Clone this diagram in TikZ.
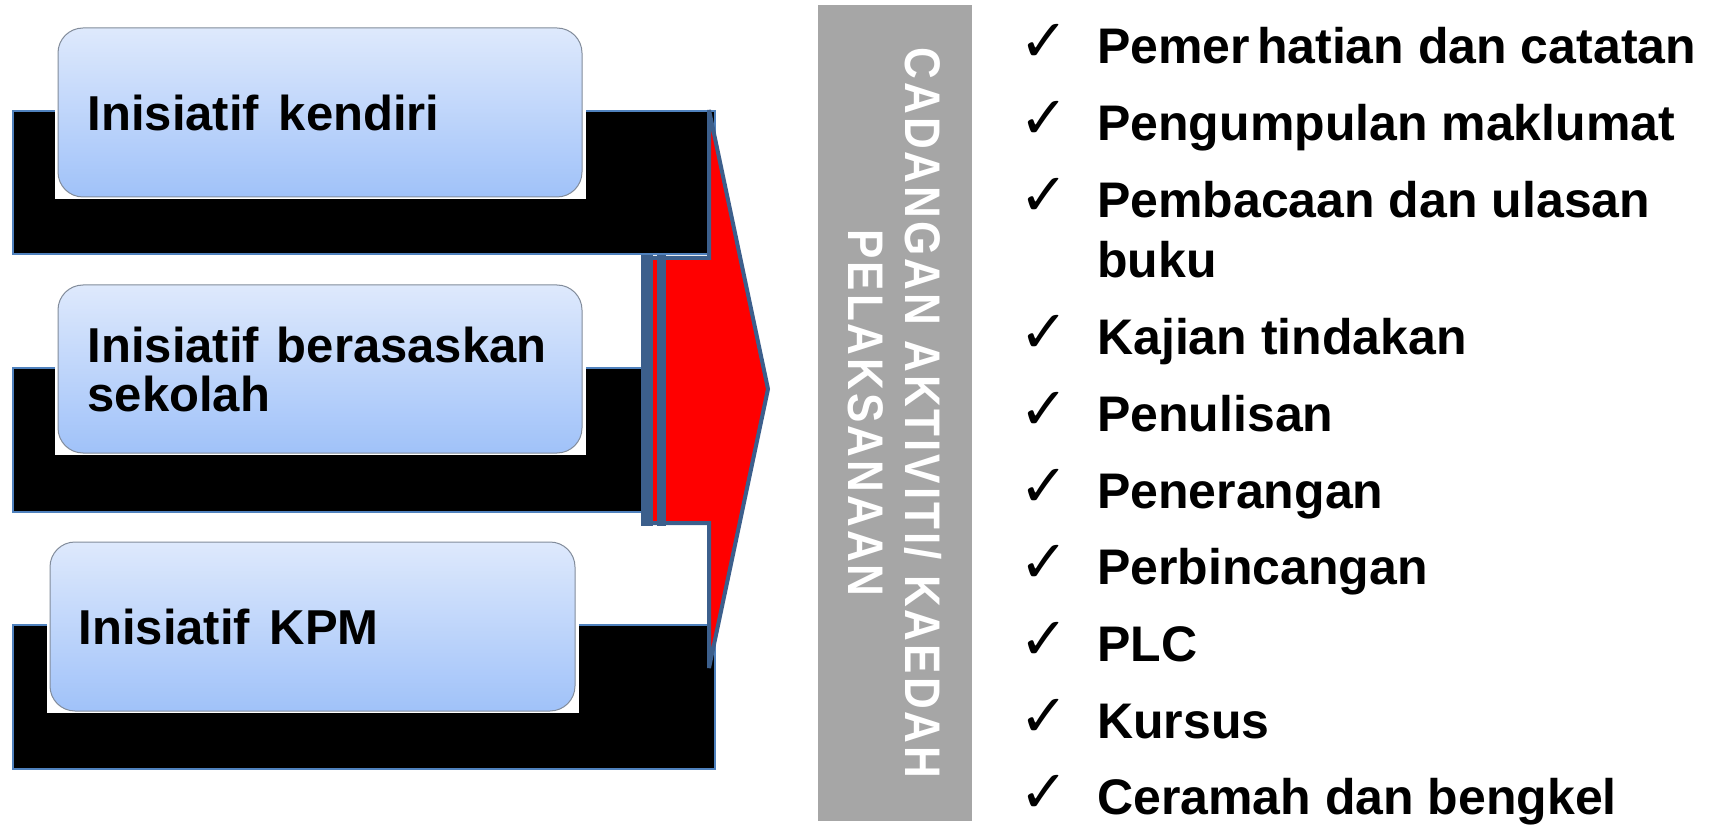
\documentclass[tikz,border=0pt]{standalone}
\usepackage{fontspec}
\setmainfont{Liberation Sans}
\newfontfamily\spacedfont{Liberation Sans}[LetterSpace=6,FakeStretch=0.88]
\newfontfamily\checkfont{DejaVu Sans}
\definecolor{arrowblue}{RGB}{60,95,140}
\definecolor{barline}{RGB}{79,129,189}
\definecolor{boxtop}{RGB}{222,233,252}
\definecolor{boxbot}{RGB}{160,194,249}
\definecolor{boxline}{RGB}{130,140,155}
\definecolor{bargray}{RGB}{166,166,166}
\begin{document}
\begin{tikzpicture}[x=1pt,y=-1pt,
  blackbar/.style={fill=black, draw=barline, line width=1.5pt},
  ibox/.style={rectangle, rounded corners=25pt, top color=boxtop, bottom color=boxbot, draw=boxline, line width=1pt, inner sep=0pt},
  itext/.style={font=\bfseries\fontsize{49}{49}\selectfont, inner sep=0pt, align=left},
  litem/.style={font=\bfseries\fontsize{50}{60}\selectfont, inner sep=0pt, anchor=base west},
  chk/.style={font=\checkfont\fontsize{59}{65}\selectfont, inner sep=0pt, anchor=base west},
  bartext/.style={font=\spacedfont\bfseries\fontsize{50}{57}\selectfont, text=white, align=center, inner sep=0pt, rotate=-90}
]
\useasboundingbox (0,0) rectangle (1717,826);

% black bars
\draw[blackbar] (13,111) rectangle (715,254);
\draw[blackbar] (13,368) rectangle (645,512);
\draw[blackbar] (13,625) rectangle (715,769);

% arrow
\fill[red] (653,258) -- (709,258) -- (709,110) -- (768,389) -- (709,668) -- (709,523) -- (653,523) -- cycle;
\fill[arrowblue] (641,255) rectangle (653,526);
\fill[arrowblue] (657,255) rectangle (666,526);
\draw[arrowblue, line width=4pt, miter limit=5] (643,258) -- (709,258) -- (709,110) -- (768,389) -- (709,668) -- (709,523) -- (643,523) -- cycle;

% white backgrounds of boxes
\fill[white] (55,26) rectangle (586,199);
\fill[white] (55,283) rectangle (586,455);
\fill[white] (47,540) rectangle (579,713);

% boxes
\node[ibox, minimum width=524pt, minimum height=169pt] (b1) at (320,112.5) {};
\node[ibox, minimum width=524pt, minimum height=168pt] (b2) at (320,369) {};
\node[ibox, minimum width=525pt, minimum height=169pt] (b3) at (312.5,626.5) {};
\node[itext, anchor=west] (t1) at ([xshift=30pt]b1.west) {Inisiatif\kern6pt{} kendiri};
\node[itext, anchor=west] (t2) at ([xshift=30pt]b2.west) {Inisiatif\kern4pt{} berasaskan\\sekolah};
\node[itext, anchor=west] (t3) at ([xshift=29pt]b3.west) {Inisiatif\kern6pt{} KPM};

% gray bar
\node[fill=bargray, minimum width=154pt, minimum height=816pt, inner sep=0pt] (bar) at (895,413) {};
\node[bartext] (bt) at (bar.center) {CADANGAN AKTIVITI/ KAEDAH\\PELAKSANAAN};

% list
\node[chk] (c1) at (1019,62) {✓};
\node[litem] (l1) at (1097,64) {Pemer\kern7pt hatian dan catatan};
\node[chk] (c2) at (1019,139) {✓};
\node[litem] (l2) at (1097,141) {Pengumpulan maklumat};
\node[chk] (c3) at (1019,216) {✓};
\node[litem] (l3) at (1097,218) {Pembacaan dan ulasan};
\node[litem] (l3b) at (1097,278) {buku};
\node[chk] (c4) at (1019,353) {✓};
\node[litem] (l4) at (1097,355) {Kajian tindakan};
\node[chk] (c5) at (1019,429) {✓};
\node[litem] (l5) at (1097,431) {Penulisan};
\node[chk] (c6) at (1019,506) {✓};
\node[litem] (l6) at (1097,508) {Penerangan};
\node[chk] (c7) at (1019,582) {✓};
\node[litem] (l7) at (1097,584) {Perbincangan};
\node[chk] (c8) at (1019,659) {✓};
\node[litem] (l8) at (1097,661) {PLC};
\node[chk] (c9) at (1019,736) {✓};
\node[litem] (l9) at (1097,738) {Kursus};
\node[chk] (c10) at (1019,812) {✓};
\node[litem] (l10) at (1097,814) {Ceramah dan bengkel};
\end{tikzpicture}
\end{document}
